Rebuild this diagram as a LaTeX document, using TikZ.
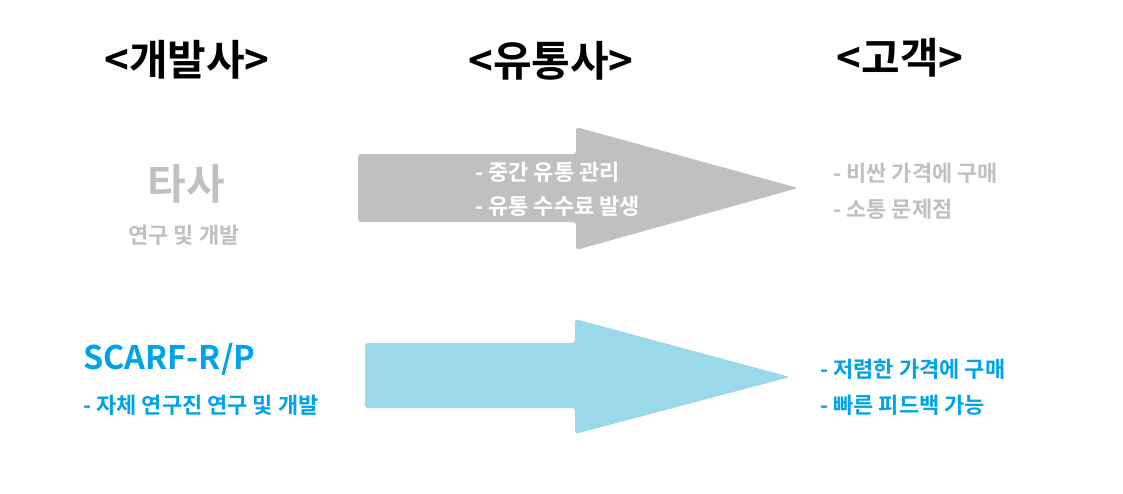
\documentclass[tikz,border=0pt]{standalone}
\usepackage{fontspec}
\setmainfont{Noto Sans CJK KR}[BoldFont={Noto Sans CJK KR Bold}]
\definecolor{arrgray}{RGB}{192,192,192}
\definecolor{arrblue}{RGB}{155,216,234}
\definecolor{txtgray}{RGB}{192,192,192}
\definecolor{txtblue}{RGB}{0,162,232}
\tikzset{
  hdr/.style={font=\fontsize{42}{46}\selectfont\bfseries, text=black, inner sep=0pt},
  big/.style={font=\fontsize{42}{46}\selectfont\bfseries, inner sep=0pt},
  latinbig/.style={font=\fontsize{32.5}{36}\selectfont\bfseries, inner sep=0pt},
  small/.style={font=\fontsize{22}{26}\selectfont\bfseries, inner sep=0pt, anchor=west},
  fatarrow/.style={rounded corners=3pt},
}
\begin{document}
\begin{tikzpicture}[x=1pt,y=-1pt]
\useasboundingbox (0,0) rectangle (1123,493);
% headers
\node[hdr] (h1) at (187,60) {<개발사>};
\node[hdr] (h2) at (551,61) {<유통사>};
\node[hdr] (h3) at (900,58) {<고객>};
% gray arrow
\fill[arrgray, fatarrow] (358,154) -- (576,154) -- (576,127) -- (798,188) -- (576,250) -- (576,222) -- (358,222) -- cycle;
% blue arrow
\fill[arrblue, fatarrow] (365,343) -- (575,343) -- (575,319) -- (790,377) -- (575,434) -- (575,408) -- (365,408) -- cycle;
% left column
\node[big, text=txtgray] (ts) at (186,184) {타사};
\node[small, text=txtgray, anchor=center] (ts2) at (184,235) {연구 및 개발};
\node[latinbig, text=txtblue, anchor=west] (sc) at (83,359) {SCARF-R/P};
\node[small, text=txtblue] (sc2) at (83,405) {- 자체 연구진 연구 및 개발};
% middle
\node[small, text=white] (m1) at (475,172) {- 중간 유통 관리};
\node[small, text=white] (m2) at (475,206) {- 유통 수수료 발생};
% right
\node[small, text=txtgray] (r1) at (833,173) {- 비싼 가격에 구매};
\node[small, text=txtgray] (r2) at (833,209) {- 소통 문제점};
\node[small, text=txtblue] (r3) at (820,369) {- 저렴한 가격에 구매};
\node[small, text=txtblue] (r4) at (820,405) {- 빠른 피드백 가능};
\end{tikzpicture}
\end{document}
